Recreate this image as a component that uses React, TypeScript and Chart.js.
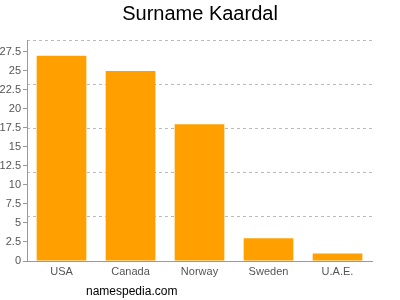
import React, { useEffect, useRef } from "react";
import { Chart, registerables } from "chart.js";

Chart.register(...registerables);

const categories = ["USA", "Canada", "Norway", "Sweden", "U.A.E."];
const counts = [27, 25, 18, 3, 1];
const yTickValues = [0, 2.5, 5, 7.5, 10, 12.5, 15, 17.5, 20, 22.5, 25, 27.5];
const yMax = 29.07;
const gridDivisions = 5;
const titleText = "Surname Kaardal";
const footerText = "namespedia.com";

const FONT = "'Liberation Sans', Arial, Helvetica, sans-serif";

export default function App() {
  const canvasRef = useRef<HTMLCanvasElement | null>(null);

  useEffect(() => {
    document.body.style.margin = "0";
    const canvas = canvasRef.current;
    if (!canvas) return;
    const chart = new Chart(canvas, {
      type: "bar",
      data: {
        labels: categories,
        datasets: [
          {
            data: counts,
            backgroundColor: "#ffa000",
            borderWidth: 0,
            categoryPercentage: 1,
            barPercentage: 0.72,
          },
        ],
      },
      options: {
        animation: false,
        responsive: false,
        maintainAspectRatio: false,
        layout: { padding: 0 },
        plugins: {
          legend: { display: false },
          tooltip: { enabled: false },
          title: {
            display: true,
            text: titleText,
            color: "#000",
            font: { family: FONT, size: 20, weight: "normal" },
            padding: { top: 2, bottom: 14 },
          },
        },
        scales: {
          x: {
            grid: { display: false, drawTicks: false, tickLength: 0 },
            border: { display: true, color: "#999" },
            ticks: {
              color: "#555",
              font: { family: FONT, size: 11 },
              padding: 4,
              maxRotation: 0,
            },
            afterFit: (scale: any) => {
              scale.height = 39;
            },
          },
          y: {
            min: 0,
            max: yMax,
            position: "left",
            grid: {
              drawOnChartArea: false,
              drawTicks: true,
              tickLength: 4,
              tickColor: "#999",
            },
            border: { display: true, color: "#999" },
            ticks: {
              color: "#555",
              font: { family: FONT, size: 11 },
              padding: 2,
            },
            afterBuildTicks: (scale: any) => {
              scale.ticks = yTickValues.map((v) => ({ value: v }));
            },
            afterFit: (scale: any) => {
              scale.width = 27;
            },
          },
          y2: {
            min: 0,
            max: gridDivisions,
            position: "right",
            ticks: { display: false, stepSize: 1 },
            grid: {
              color: (ctx: any) => (ctx.tick && ctx.tick.value === 0 ? "transparent" : "#bbbbbb"),
              drawTicks: false,
              lineWidth: 1,
            },
            border: { display: false, dash: [3, 3] },
            afterFit: (scale: any) => {
              scale.width = 28;
            },
          },
        },
      },
    });
    return () => chart.destroy();
  }, []);

  return (
    <div style={{ position: "fixed", left: 0, top: 0, width: 400, height: 300 }}>
      <canvas ref={canvasRef} width={400} height={300} style={{ width: 400, height: 300 }} />
      <div
        style={{
          position: "absolute",
          left: 86,
          top: 283,
          fontFamily: FONT,
          fontSize: 12,
          color: "#000",
          lineHeight: "16px",
        }}
      >
        {footerText}
      </div>
    </div>
  );
}
